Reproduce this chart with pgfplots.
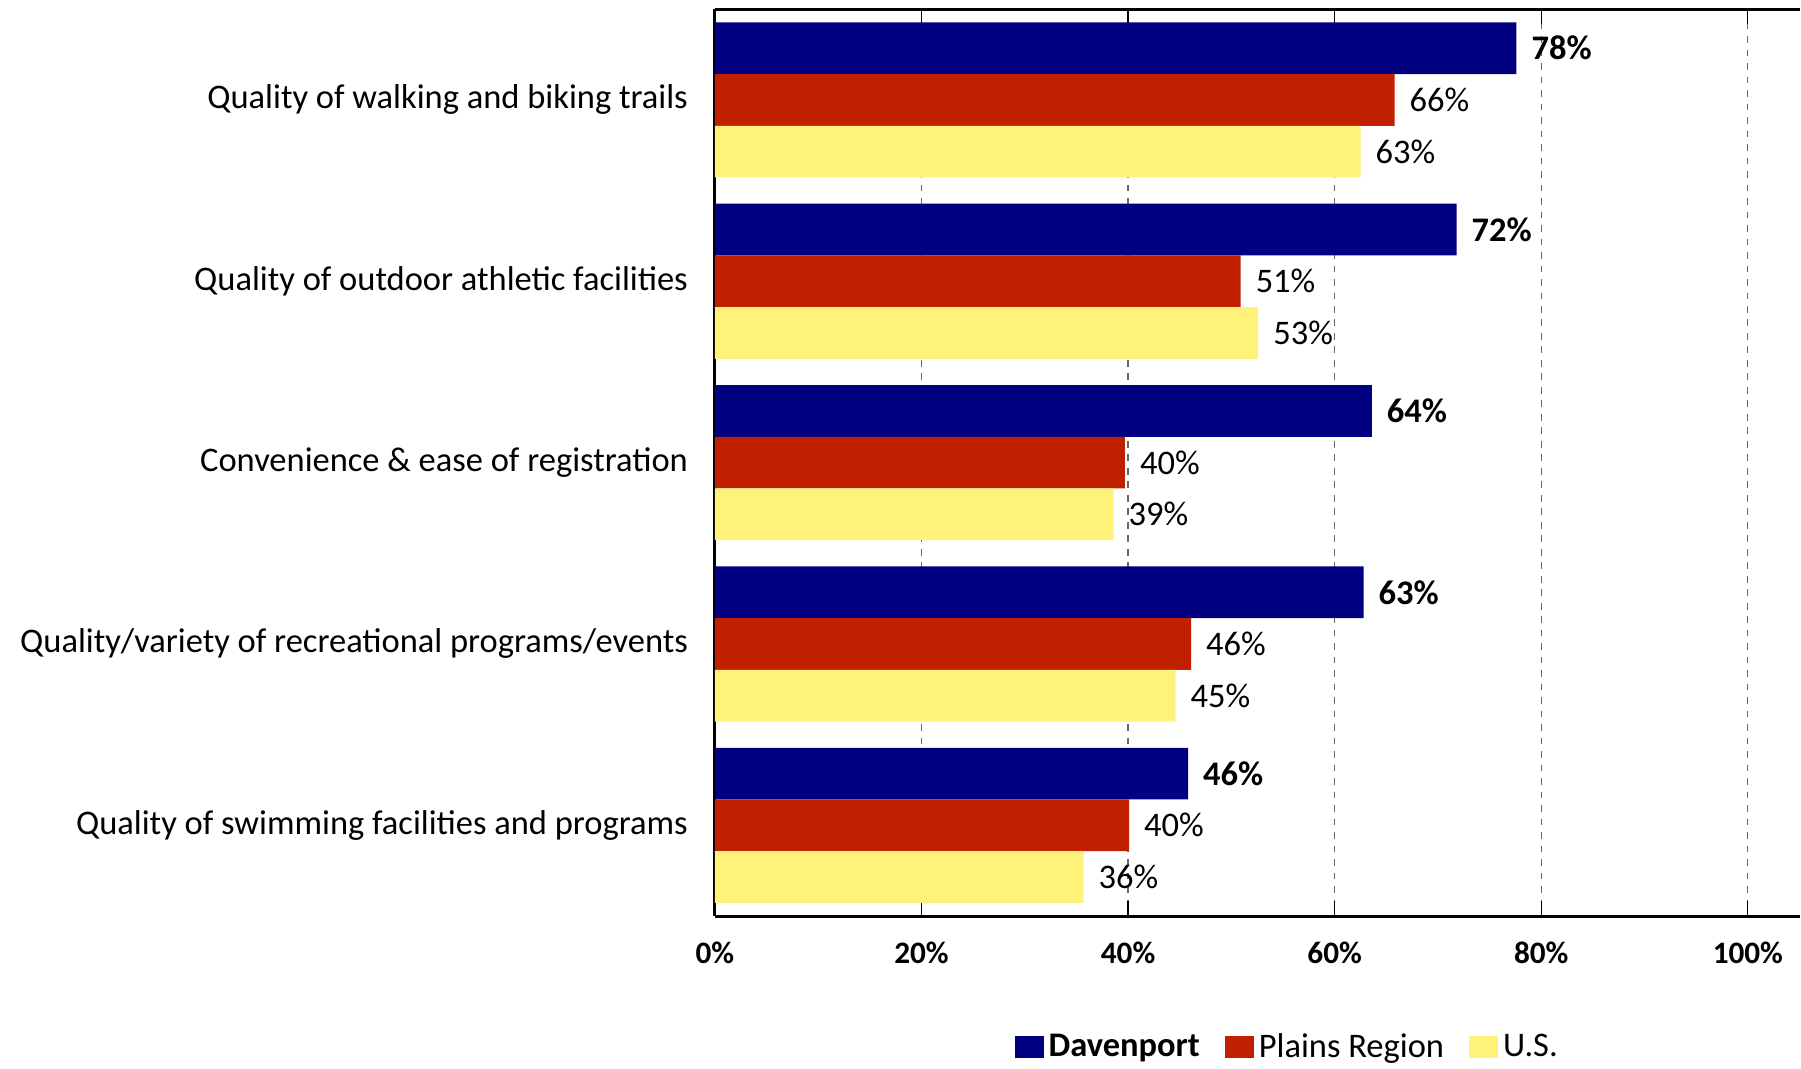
\documentclass[border=0pt]{standalone}
\usepackage{fontspec}
\setmainfont{Carlito}
\usepackage{pgfplots}
\pgfplotsset{compat=1.18}

\definecolor{davblue}{RGB}{0,0,128}
\definecolor{plainsred}{RGB}{192,32,0}
\definecolor{usyellow}{RGB}{255,242,122}

\begin{document}
\begin{tikzpicture}
	\begin{axis}[
		scale only axis,
		width=434.2pt,
		height=363pt,
		xbar,
		bar width=20.7pt,
		xmin=0, xmax=105,
		ymin=-0.5, ymax=4.5,
		y dir=reverse,
		axis x line=box,
		axis y line=left,
		axis line style={line width=1.2pt,-},
		xtick={0,20,40,60,80,100},
		xticklabels={0\%,20\%,40\%,60\%,80\%,100\%},
		x tick label style={font=\fontsize{12.5}{14}\selectfont\bfseries, yshift=-7pt},
		major tick length=6pt,
		xtick style={black, line width=0.5pt},
		xmajorgrids,
		grid style={black!60, line width=0.5pt, dash pattern=on 2.7pt off 2.7pt},
		ytick={0,1,2,3,4},
		yticklabels={Quality of walking and biking trails,
			Quality of outdoor athletic facilities,
			Convenience \& ease of registration,
			Quality/variety of recreational programs/events,
			Quality of swimming facilities and programs},
		y tick label style={font=\fontsize{13.8}{16}\selectfont, xshift=-4.3pt},
		ytick style={draw=none},
		point meta=explicit symbolic,
		nodes near coords={\pgfplotspointmeta\%},
		every node near coord/.append style={font=\fontsize{13.8}{16}\selectfont, anchor=west, xshift=2.5pt},
		legend image code/.code={\fill[#1] (0pt,-4.4pt) rectangle (11.6pt,4.4pt);},
		legend style={at={(0.529,-0.145)}, anchor=center, draw=none, inner sep=0pt,
			font=\fontsize{13.8}{16}\selectfont, legend columns=-1,
			/tikz/every even column/.append style={column sep=8pt}},
		]
		\addplot[fill=davblue, draw=none, bar shift=20.7pt,
			every node near coord/.append style={font=\fontsize{13.8}{16}\selectfont\bfseries}] coordinates {
			(77.6,0) [78]
			(71.8,1) [72]
			(63.6,2) [64]
			(62.8,3) [63]
			(45.8,4) [46]
		};
		\addplot[fill=plainsred, draw=none, bar shift=0pt] coordinates {
			(65.8,0) [66]
			(50.9,1) [51]
			(39.7,2) [40]
			(46.1,3) [46]
			(40.1,4) [40]
		};
		\addplot[fill=usyellow, draw=none, bar shift=-20.7pt] coordinates {
			(62.5,0) [63]
			(52.6,1) [53]
			(38.6,2) [39]
			(44.6,3) [45]
			(35.7,4) [36]
		};
		\addlegendentry{\textbf{Davenport}}
		\addlegendentry{Plains Region}
		\addlegendentry{U.S.}
	\end{axis}
	\path ([xshift=-286.2pt, yshift=3.7pt]current axis.north west)
		rectangle ([yshift=-61pt]current axis.south east);
\end{tikzpicture}
\end{document}
